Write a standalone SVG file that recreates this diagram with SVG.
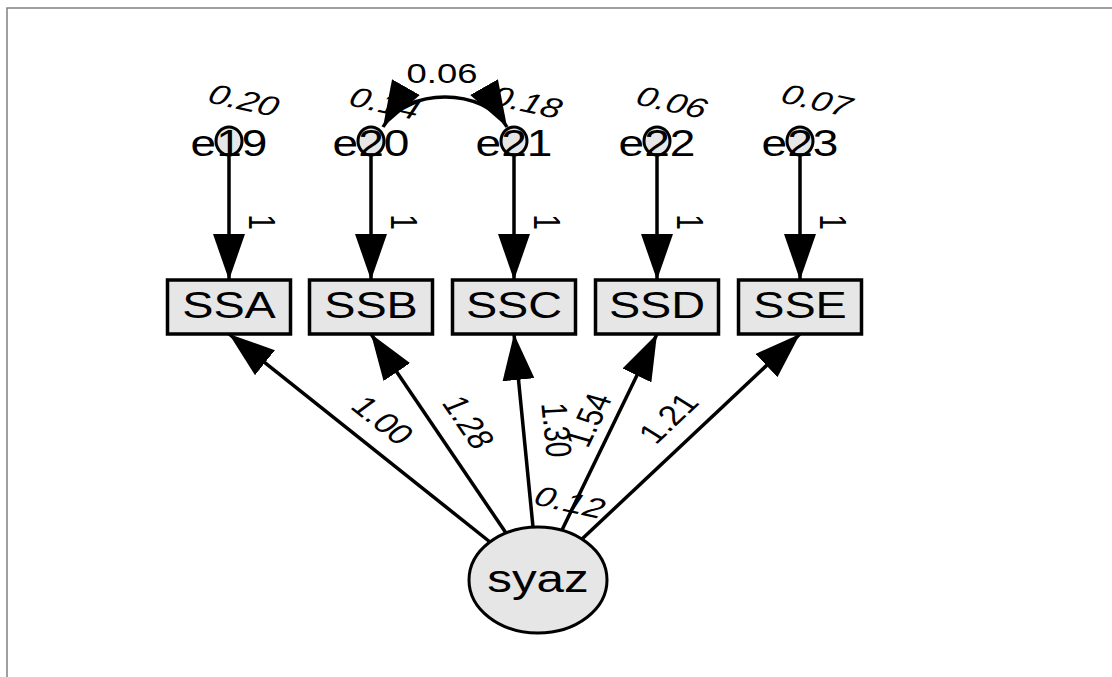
<svg xmlns="http://www.w3.org/2000/svg" width="1112" height="677" viewBox="0 0 1112 677">
<style>
.t{font-family:"Liberation Sans",Arial,sans-serif;fill:#000}
.box{fill:#e6e6e6;stroke:#000;stroke-width:3.5}
.ov{fill:#e6e6e6;stroke:#000;stroke-width:3}
.ln{fill:none;stroke:#000;stroke-width:3.5}
.it{font-style:italic}
</style>
<defs>
<marker id="ah" viewBox="0 -16 46 32" refX="46" refY="0" markerWidth="46" markerHeight="32" markerUnits="userSpaceOnUse" orient="auto-start-reverse">
<path d="M0,-16 L46,0 L0,16 z" fill="#000"/>
</marker>
</defs>
<rect x="0" y="0" width="1112" height="677" fill="#fff"/>
<path d="M7,677 L7,8 L1112,8" fill="none" stroke="#808080" stroke-width="1.5"/>

<g id="e19">
<ellipse class="ov" cx="229" cy="141" rx="13" ry="14"/>
<text class="t" font-size="36" text-anchor="middle" transform="translate(229,156) scale(1.28,1)">e19</text>
<text class="t it" font-size="28" text-anchor="middle" y="10" transform="translate(244,100) scale(1.3,1) rotate(16)">0.20</text>
</g>
<g id="e20">
<ellipse class="ov" cx="371" cy="141" rx="13" ry="14"/>
<text class="t" font-size="36" text-anchor="middle" transform="translate(371,156) scale(1.28,1)">e20</text>
<text class="t it" font-size="28" text-anchor="middle" y="10" transform="translate(385,103) scale(1.3,1) rotate(16)">0.14</text>
</g>
<g id="e21">
<ellipse class="ov" cx="514" cy="141" rx="13" ry="14"/>
<text class="t" font-size="36" text-anchor="middle" transform="translate(514,156) scale(1.28,1)">e21</text>
<text class="t it" font-size="28" text-anchor="middle" y="10" transform="translate(527,102) scale(1.3,1) rotate(16)">0.18</text>
</g>
<g id="e22">
<ellipse class="ov" cx="657" cy="141" rx="13" ry="14"/>
<text class="t" font-size="36" text-anchor="middle" transform="translate(657,156) scale(1.28,1)">e22</text>
<text class="t it" font-size="28" text-anchor="middle" y="10" transform="translate(672,102) scale(1.3,1) rotate(16)">0.06</text>
</g>
<g id="e23">
<ellipse class="ov" cx="800" cy="141" rx="13" ry="14"/>
<text class="t" font-size="36" text-anchor="middle" transform="translate(800,156) scale(1.28,1)">e23</text>
<text class="t it" font-size="28" text-anchor="middle" y="10" transform="translate(817,100) scale(1.3,1) rotate(16)">0.07</text>
</g>

<g id="SSA">
<rect class="box" x="167.5" y="280" width="123" height="54"/>
<text class="t" font-size="36" text-anchor="middle" transform="translate(229,318) scale(1.3,1)">SSA</text>
</g>
<g id="SSB">
<rect class="box" x="309.5" y="280" width="123" height="54"/>
<text class="t" font-size="36" text-anchor="middle" transform="translate(371,318) scale(1.3,1)">SSB</text>
</g>
<g id="SSC">
<rect class="box" x="452.5" y="280" width="123" height="54"/>
<text class="t" font-size="36" text-anchor="middle" transform="translate(514,318) scale(1.3,1)">SSC</text>
</g>
<g id="SSD">
<rect class="box" x="595.5" y="280" width="123" height="54"/>
<text class="t" font-size="36" text-anchor="middle" transform="translate(657,318) scale(1.3,1)">SSD</text>
</g>
<g id="SSE">
<rect class="box" x="738.5" y="280" width="123" height="54"/>
<text class="t" font-size="36" text-anchor="middle" transform="translate(800,318) scale(1.3,1)">SSE</text>
</g>

<g id="syaz">
<ellipse class="ov" cx="538" cy="580" rx="69" ry="53"/>
<text class="t" font-size="38" text-anchor="middle" transform="translate(538,592) scale(1.3,1)">syaz</text>
<text class="t it" font-size="28" text-anchor="middle" y="10" transform="translate(570,502) scale(1.3,1) rotate(16)">0.12</text>
</g>

<g id="connectors">
<line class="ln" x1="229" y1="155" x2="229" y2="280" marker-end="url(#ah)"/>
<line class="ln" x1="371" y1="155" x2="371" y2="280" marker-end="url(#ah)"/>
<line class="ln" x1="514" y1="155" x2="514" y2="280" marker-end="url(#ah)"/>
<line class="ln" x1="657" y1="155" x2="657" y2="280" marker-end="url(#ah)"/>
<line class="ln" x1="800" y1="155" x2="800" y2="280" marker-end="url(#ah)"/>
<text class="t" font-size="28" text-anchor="middle" transform="translate(249,222) scale(1.3,1) rotate(90)">1</text>
<text class="t" font-size="28" text-anchor="middle" transform="translate(391,222) scale(1.3,1) rotate(90)">1</text>
<text class="t" font-size="28" text-anchor="middle" transform="translate(534,222) scale(1.3,1) rotate(90)">1</text>
<text class="t" font-size="28" text-anchor="middle" transform="translate(677,222) scale(1.3,1) rotate(90)">1</text>
<text class="t" font-size="28" text-anchor="middle" transform="translate(820,222) scale(1.3,1) rotate(90)">1</text>

<path class="ln" d="M383,127 C406,87 484,87 507,127" marker-start="url(#ah)" marker-end="url(#ah)"/>
<text class="t" font-size="28" text-anchor="middle" transform="translate(442,83) scale(1.3,1)">0.06</text>

<line class="ln" x1="490" y1="542" x2="229" y2="334" marker-end="url(#ah)"/>
<line class="ln" x1="506" y1="533" x2="371" y2="334" marker-end="url(#ah)"/>
<line class="ln" x1="533" y1="527" x2="514" y2="334" marker-end="url(#ah)"/>
<line class="ln" x1="562" y1="530" x2="657" y2="334" marker-end="url(#ah)"/>
<line class="ln" x1="582" y1="539" x2="800" y2="334" marker-end="url(#ah)"/>
<text class="t" font-size="28" text-anchor="middle" y="10" transform="translate(383,420) scale(1.3,1) rotate(45.9)">1.00</text>
<text class="t" font-size="28" text-anchor="middle" y="10" transform="translate(469,422) scale(1.3,1) rotate(62.4)">1.28</text>
<text class="t" font-size="28" text-anchor="middle" y="10" transform="translate(557,430) scale(1.3,1) rotate(85.7)">1.30</text>
<text class="t" font-size="28" text-anchor="middle" y="10" transform="translate(588,420) scale(1.3,1) rotate(-69.6)">1.54</text>
<text class="t" font-size="28" text-anchor="middle" y="10" transform="translate(668,418) scale(1.3,1) rotate(-50.7)">1.21</text>
</g>
</svg>
